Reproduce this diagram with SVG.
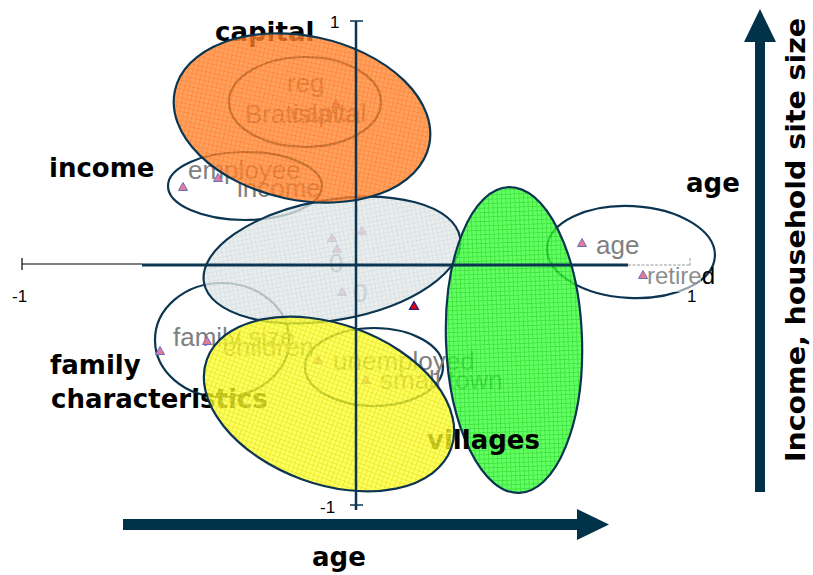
<svg xmlns="http://www.w3.org/2000/svg" width="813" height="575" viewBox="0 0 813 575">
<defs>
<pattern id="pO" width="4.4" height="4.4" patternUnits="userSpaceOnUse"><rect width="4.4" height="4.4" fill="#ff8a36"/><path d="M0 .5H4.4M.5 0V4.4" stroke="#ff6e12" stroke-width="0.9"/></pattern>
<pattern id="pG" width="4.4" height="4.4" patternUnits="userSpaceOnUse"><rect width="4.4" height="4.4" fill="#3cff3c"/><path d="M0 .5H4.4M.5 0V4.4" stroke="#10dd10" stroke-width="0.9"/></pattern>
<pattern id="pY" width="4.4" height="4.4" patternUnits="userSpaceOnUse"><rect width="4.4" height="4.4" fill="#ffff38"/><path d="M0 .5H4.4M.5 0V4.4" stroke="#e6e600" stroke-width="0.9"/></pattern>
<pattern id="pS" width="4.4" height="4.4" patternUnits="userSpaceOnUse"><rect width="4.4" height="4.4" fill="#e3e9e9"/><path d="M0 .5H4.4M.5 0V4.4" stroke="#d3dbdc" stroke-width="0.9"/></pattern>
<path id="tri" d="M0 -4.5L4.5 3.5H-4.5Z"/>
</defs>
<style>
.ol{fill:none;stroke:#0b3550;stroke-width:2.2}
.blob{stroke:#0b3550;stroke-width:2.2;fill-opacity:0.8}
.lab{font-family:"DejaVu Sans",Verdana,sans-serif;font-weight:bold;font-size:26px;fill:#000}
.gt{font-family:"Liberation Sans",Arial,sans-serif;font-size:26px;fill:#808080}
.num{font-family:"Liberation Sans",Arial,sans-serif;font-size:17px;fill:#000}
.pt{fill:#e87a94;stroke:#6070c8;stroke-width:1}
.ax{stroke:#0b3550;fill:none}
</style>
<rect width="813" height="575" fill="#fff"/>

<g id="capital-inner"><ellipse class="ol" cx="305" cy="102" rx="76" ry="45"/>
<text class="gt" x="287" y="92">reg</text>
<text class="gt" x="245" y="123" font-size="27">Bratislava</text>
<text class="gt" x="291" y="122">capital</text>
<use href="#tri" class="pt" x="336" y="104"/></g>

<g id="income"><ellipse class="ol" cx="245" cy="186" rx="77" ry="34"/>
<text class="gt" x="188" y="179">employee</text>
<text class="gt" x="237" y="197">income</text>
<use href="#tri" class="pt" x="183" y="187"/><use href="#tri" class="pt" x="218" y="178"/></g>

<g id="family"><ellipse class="ol" cx="222" cy="340" rx="67" ry="57"/>
<text class="gt" x="173" y="346">family size</text>
<text class="gt" x="223" y="356">children</text>
<use href="#tri" class="pt" x="160" y="351"/><use href="#tri" class="pt" x="207" y="341"/></g>

<g id="unemployed"><ellipse class="ol" cx="374" cy="367" rx="69" ry="39"/>
<text class="gt" x="333" y="370" font-size="25">unemployed</text>
<text class="gt" x="380" y="389">small town</text>
<use href="#tri" class="pt" x="318" y="360"/><use href="#tri" class="pt" x="366" y="380"/></g>

<g id="age-group"><ellipse class="ol" cx="631" cy="252" rx="84" ry="46" transform="rotate(3 631 252)"/>
<text class="gt" x="596" y="254">age</text>
<text font-family="Liberation Sans,Arial,sans-serif" font-size="24" x="647" y="284" fill="#000">retired</text>
<rect x="629" y="266" width="72" height="26" fill="#fff" fill-opacity="0.55"/>
<use href="#tri" class="pt" x="582" y="243"/><use href="#tri" class="pt" x="643" y="275"/></g>

<g id="center-points">
<text class="gt" x="329" y="272" font-size="20">0</text>
<text class="gt" x="353" y="302" font-size="20">0</text>
<use href="#tri" class="pt" x="332" y="238"/><use href="#tri" class="pt" x="337" y="249"/>
<use href="#tri" class="pt" x="362" y="231"/><use href="#tri" class="pt" x="342" y="292"/></g>

<g id="labels">
<text class="lab" x="215" y="41">capital</text>
<text class="lab" x="49" y="177">income</text>
<text class="lab" x="686" y="192">age</text>
<text class="lab" x="50" y="374">family</text>
<text class="lab" x="51" y="408">characteristics</text>
</g>

<g id="cluster-grey"><ellipse class="blob" fill="url(#pS)" cx="332" cy="260" rx="130" ry="60" transform="rotate(-10 332 260)"/></g>
<g id="cluster-orange"><ellipse class="blob" fill="url(#pO)" cx="302" cy="118" rx="130" ry="82" transform="rotate(12 302 118)"/></g>
<g id="cluster-green"><ellipse class="blob" fill="url(#pG)" cx="514" cy="340" rx="68" ry="153" transform="rotate(-2 514 340)"/></g>
<g id="villages"><text class="lab" x="427" y="449">villages</text></g>
<g id="cluster-yellow"><ellipse class="blob" fill="url(#pY)" cx="329" cy="404" rx="130" ry="80" transform="rotate(20 329 404)"/></g>

<g id="connectors">
<path d="M22 264H142" stroke="#000" stroke-width="1.2"/>
<path d="M22 258V270" stroke="#000" stroke-width="1.2"/>
<path class="ax" d="M142 265H628" stroke-width="3"/>
<path d="M628 265H690M690 258V266" stroke="#999" stroke-width="1" stroke-dasharray="3 1.5"/>
<path class="ax" d="M356 21V510" stroke-width="2.5"/>
<path class="ax" d="M350 21H363M350 505H363" stroke-width="1.5"/>
<path d="M123 524.5H579" stroke="#003349" stroke-width="11"/>
<path d="M577 509L609 524.5L577 540Z" fill="#003349"/>
<path d="M760 492V40" stroke="#003349" stroke-width="10"/>
<path d="M744 42L760 9L776 42Z" fill="#003349"/>
</g>
<g id="axis-labels">
<text class="num" x="330" y="28">1</text>
<text class="num" x="320" y="513">-1</text>
<text class="num" x="12" y="302">-1</text>
<text class="num" x="687" y="302">1</text>
<use href="#tri" x="414" y="306" fill="#e00010" stroke="#1a1a80" stroke-width="1.2"/>
<text class="lab" x="312" y="566">age</text>
<text class="lab" font-size="28" text-anchor="middle" textLength="444" lengthAdjust="spacingAndGlyphs" transform="translate(805 240) rotate(-90)">Income, household site size</text>
</g>
</svg>
